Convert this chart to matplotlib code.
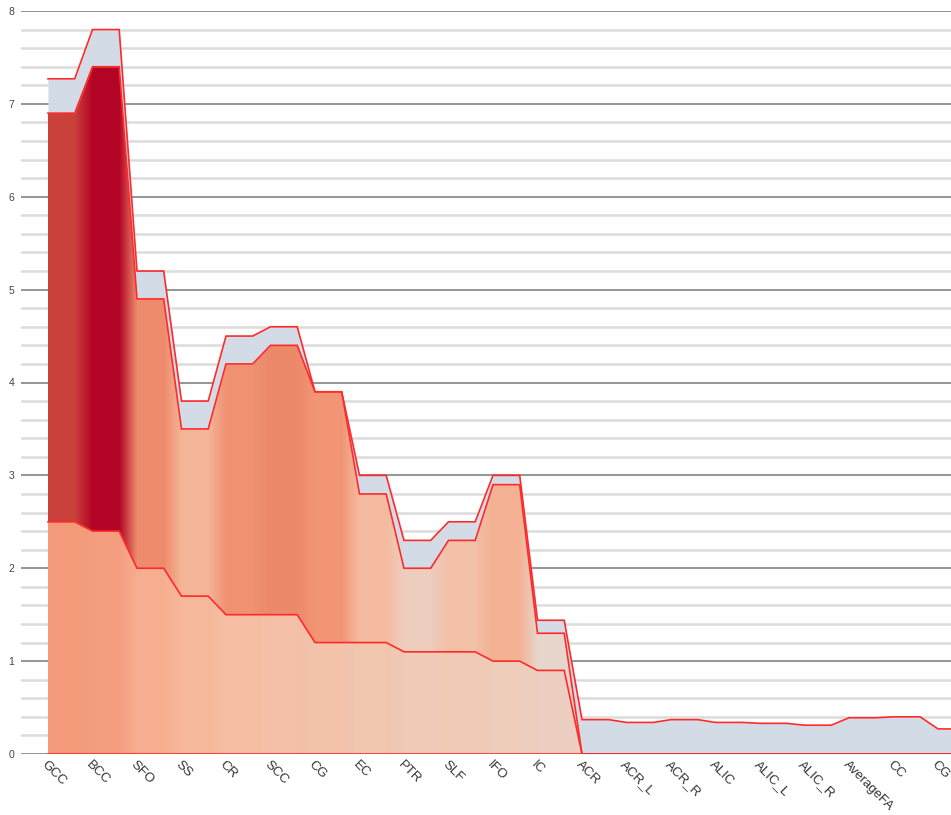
import numpy as np
import matplotlib
matplotlib.use("Agg")
from matplotlib import pyplot as plt
from matplotlib.colors import to_rgb

categories = ['GCC', 'BCC', 'SFO', 'SS', 'CR', 'SCC', 'CG', 'EC', 'PTR', 'SLF',
              'IFO', 'IC', 'ACR', 'ACR_L', 'ACR_R', 'ALIC', 'ALIC_L', 'ALIC_R',
              'AverageFA', 'CC', 'CG']

# stacked layer values (bottom -> top)
layer1 = [2.5, 2.4, 2.0, 1.7, 1.5, 1.5, 1.2, 1.2, 1.1, 1.1, 1.0, 0.9,
          0, 0, 0, 0, 0, 0, 0, 0, 0]
layer2 = [4.4, 5.0, 2.9, 1.8, 2.7, 2.9, 2.7, 1.6, 0.9, 1.2, 1.9, 0.4,
          0, 0, 0, 0, 0, 0, 0, 0, 0]
layer3 = [0.37, 0.4, 0.3, 0.3, 0.3, 0.2, 0.0, 0.2, 0.3, 0.2, 0.1, 0.14,
          0.37, 0.34, 0.37, 0.34, 0.33, 0.31, 0.39, 0.4, 0.27]

# per-category fill colours
colors1 = ['#f39a7b', '#f49e7f', '#f6ae90', '#f6b89b', '#f5bea3', '#f4c0a7',
           '#f3c3ac', '#f2c6af', '#efcab7', '#f0c9b4', '#eecdbb', '#eccfc1',
           '#eccfc1', '#eccfc1', '#eccfc1', '#eccfc1', '#eccfc1', '#eccfc1',
           '#eccfc1', '#eccfc1', '#eccfc1']
colors2 = ['#c9413a', '#b40426', '#ee8b6c', '#f5b598', '#f09172', '#ec896a',
           '#f19575', '#f5bba0', '#edcdbe', '#f3c0a8', '#f4b193', '#e7d6cc',
           '#e7d6cc', '#e7d6cc', '#e7d6cc', '#e7d6cc', '#e7d6cc', '#e7d6cc',
           '#e7d6cc', '#e7d6cc', '#e7d6cc']
top_color = '#d3dbe6'
line_color = '#ff2a2a'

n = len(categories)
flat = 0.6
idx = np.arange(n)
xs = np.ravel(np.column_stack([idx, idx + flat]))


def expand(v):
    return np.repeat(np.asarray(v, dtype=float), 2)


b0 = np.zeros_like(xs)
b1 = expand(layer1)
b2 = b1 + expand(layer2)
b3 = b2 + expand(layer3)

fig = plt.figure(figsize=(9.51, 8.15), dpi=100)
ax = fig.add_axes([21 / 951, 1 - 754 / 815, 930 / 951, 743 / 815])
ax.set_xlim(-27 / 44.5, (951 - 48) / 44.5)
ax.set_ylim(0, 8)

# grid
ax.set_yticks(np.arange(0, 9, 1))
ax.set_yticks(np.arange(0, 8.01, 0.2), minor=True)
ax.grid(axis='y', which='minor', color='#dcdcdc', lw=1.8, zorder=0)
ax.grid(axis='y', which='major', color='#8c8c8c', lw=1.3, zorder=0)
ax.set_axisbelow(True)
for s in ax.spines.values():
    s.set_visible(False)


def gradient_fill(lo, hi, cols):
    poly = ax.fill_between(xs, lo, hi, facecolor='none', edgecolor='none')
    gx = np.linspace(xs[0], xs[-1], 3000)
    rgb = np.array([to_rgb(c) for c in np.repeat(cols, 2)])
    img = np.stack([np.interp(gx, xs, rgb[:, k]) for k in range(3)], axis=-1)
    im = ax.imshow(img[None, :, :], extent=(xs[0], xs[-1], 0, 8),
                   aspect='auto', interpolation='nearest', zorder=1)
    im.set_clip_path(poly.get_paths()[0], ax.transData)


gradient_fill(b0, b1, colors1)
gradient_fill(b1, b2, colors2)
ax.fill_between(xs, b2, b3, color=top_color, lw=0, zorder=1)

for y in (b0, b1, b2, b3):
    ax.plot(xs, y, color=line_color, lw=1.2, zorder=3, solid_joinstyle='miter')

ax.set_xticks(idx)
ax.set_xticklabels(categories, rotation=-45, ha='left', va='top',
                   rotation_mode='anchor', fontsize=9.5, color='#333333',
                   family='Liberation Sans')
ax.tick_params(axis='x', length=0, pad=3)
ax.tick_params(axis='y', which='both', length=0, pad=5, labelsize=7.5,
               labelcolor='#444444')
for t in ax.get_yticklabels():
    t.set_family('Liberation Sans')

fig.savefig('out.png', dpi=100, facecolor='white')
